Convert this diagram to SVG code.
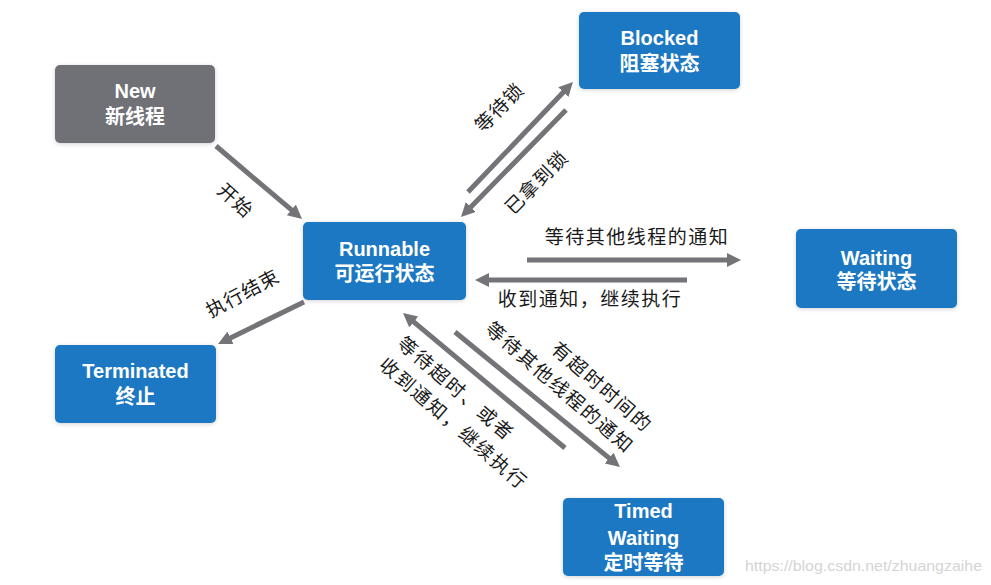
<svg xmlns="http://www.w3.org/2000/svg" width="991" height="585" viewBox="0 0 991 585">
<defs>
<style>
.node{stroke:none;filter:url(#sh)}
.blue{fill:#1b78c2}
.gray{fill:#6f6f77}
.nt{font-family:"Liberation Sans","Noto Sans CJK SC",sans-serif;font-weight:bold;font-size:20px;fill:#ffffff;text-anchor:middle}
.lbl{font-family:"Noto Sans CJK SC","Liberation Sans",sans-serif;font-size:19px;fill:#1a1a1a}
.edge{stroke:#737378;stroke-width:5;fill:none;marker-end:url(#ah)}
.wm{font-family:"Liberation Sans",sans-serif;font-size:15px;fill:#d4d4d4}
</style>
<marker id="ah" markerUnits="userSpaceOnUse" markerWidth="16" markerHeight="16" refX="2" refY="7" orient="auto">
<path d="M0,0 L14,7 L0,14 z" fill="#737378"/>
</marker>
<filter id="sh" x="-10%" y="-10%" width="120%" height="130%">
<feDropShadow dx="0" dy="1" stdDeviation="2" flood-color="#000" flood-opacity="0.18"/>
</filter>
</defs>
<rect width="991" height="585" fill="#ffffff"/>

<g id="connectors">
<path class="edge" d="M216,146 L292.9,211.2"/>
<path class="edge" d="M304,302 L228.8,338.7"/>
<path class="edge" d="M468,192 L564.7,90.7"/>
<path class="edge" d="M566,110 L469.4,208.4"/>
<path class="edge" d="M527,260 L729,260"/>
<path class="edge" d="M687,280 L487,280"/>
<path class="edge" d="M455,332 L610.7,459.4"/>
<path class="edge" d="M565,448 L412.2,320.7"/>
</g>

<g id="labels">
<text class="lbl" transform="translate(235,201) rotate(42)" text-anchor="middle" y="6" letter-spacing="1">开始</text>
<text class="lbl" transform="translate(243,294) rotate(-28)" text-anchor="middle" y="6" letter-spacing="1">执行结束</text>
<text class="lbl" transform="translate(500,108) rotate(-45)" text-anchor="middle" y="6" letter-spacing="1">等待锁</text>
<text class="lbl" transform="translate(537,183) rotate(-45)" text-anchor="middle" y="6" letter-spacing="1">已拿到锁</text>
<text class="lbl" x="637" y="244" text-anchor="middle" letter-spacing="1.5">等待其他线程的通知</text>
<text class="lbl" x="590" y="306" text-anchor="middle" letter-spacing="1.5">收到通知，继续执行</text>
<g transform="translate(649,429) rotate(41)">
<text class="lbl" x="0" y="6" text-anchor="end" letter-spacing="2">有超时时间的</text>
<text class="lbl" x="0" y="34" text-anchor="end" letter-spacing="2">等待其他线程的通知</text>
</g>
<g transform="translate(400,341) rotate(41)">
<text class="lbl" x="0" y="6" letter-spacing="2">等待超时、或者</text>
<text class="lbl" x="0" y="34" letter-spacing="2">收到通知，继续执行</text>
</g>
</g>

<g id="new">
<rect class="node gray" x="55" y="65" width="160" height="78" rx="5"/>
<text class="nt" x="135" y="98">New</text>
<text class="nt" x="135" y="124">新线程</text>
</g>
<g id="blocked">
<rect class="node blue" x="579" y="12" width="161" height="77" rx="5"/>
<text class="nt" x="659.5" y="45">Blocked</text>
<text class="nt" x="659.5" y="71">阻塞状态</text>
</g>
<g id="runnable">
<rect class="node blue" x="303" y="222" width="163" height="78" rx="5"/>
<text class="nt" x="384.5" y="256">Runnable</text>
<text class="nt" x="384.5" y="281">可运行状态</text>
</g>
<g id="waiting">
<rect class="node blue" x="796" y="229" width="161" height="79" rx="5"/>
<text class="nt" x="876.5" y="265">Waiting</text>
<text class="nt" x="876.5" y="289">等待状态</text>
</g>
<g id="terminated">
<rect class="node blue" x="55" y="345" width="161" height="78" rx="5"/>
<text class="nt" x="135.5" y="378">Terminated</text>
<text class="nt" x="135.5" y="404">终止</text>
</g>
<g id="timedwaiting">
<rect class="node blue" x="563" y="498" width="161" height="78" rx="5"/>
<text class="nt" x="643.5" y="518">Timed</text>
<text class="nt" x="643.5" y="545">Waiting</text>
<text class="nt" x="643.5" y="570">定时等待</text>
</g>

<text class="wm" x="745" y="571" textLength="237" lengthAdjust="spacingAndGlyphs">https://blog.csdn.net/zhuangzaihe</text>
</svg>
